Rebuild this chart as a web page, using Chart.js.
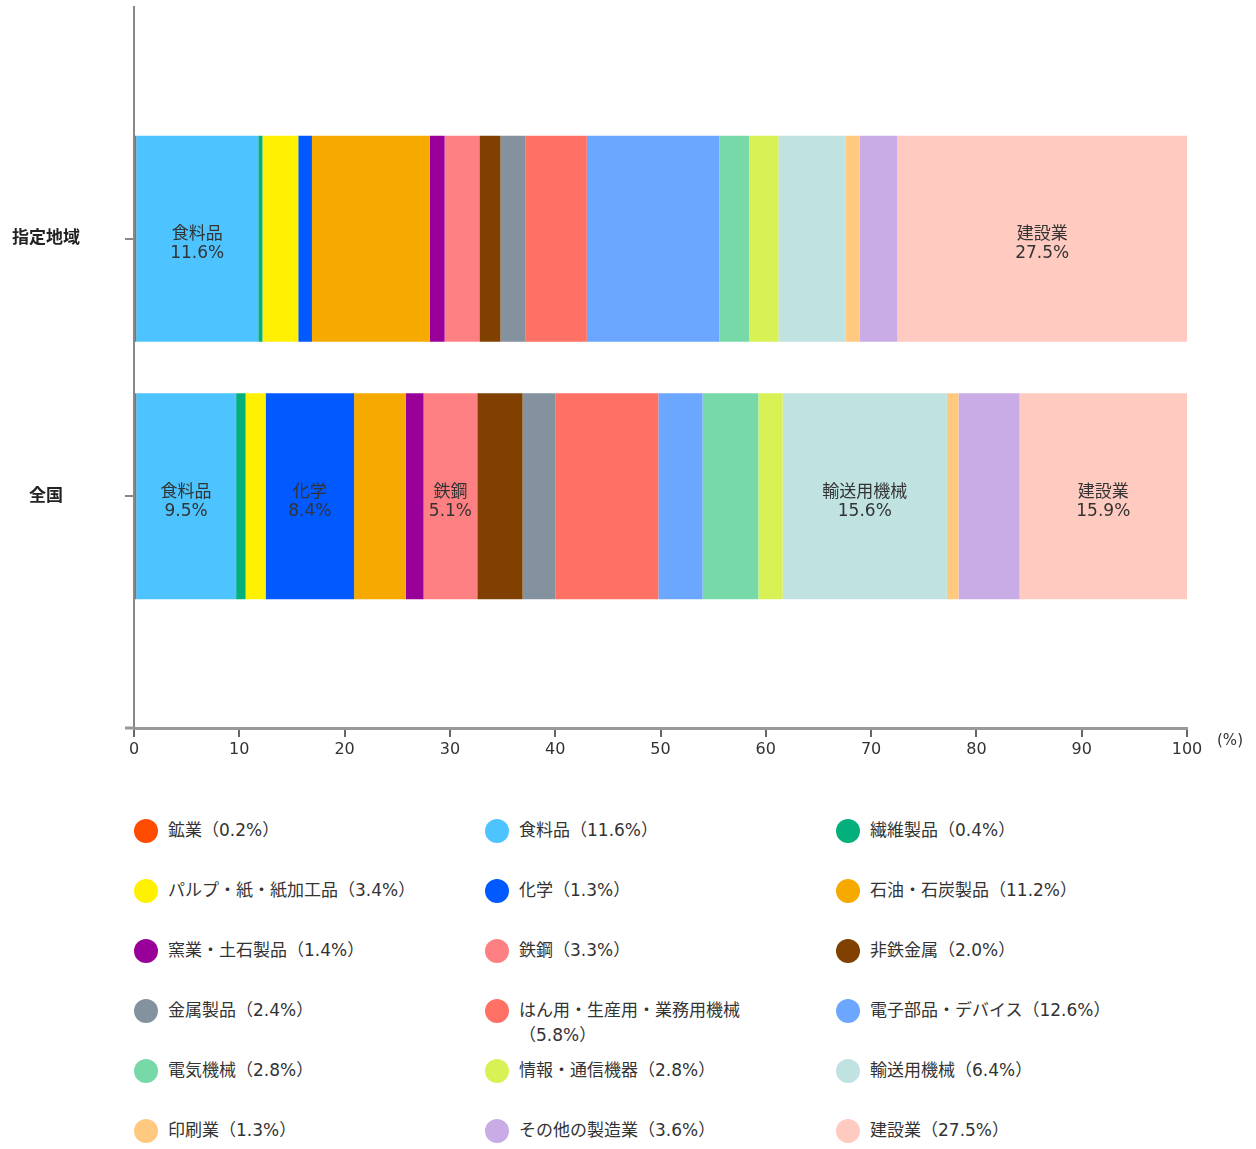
<!DOCTYPE html>
<html lang="ja">
<head>
<meta charset="utf-8">
<title>産業別構成比</title>
<script src="https://cdn.jsdelivr.net/npm/chart.js@4/dist/chart.umd.min.js"></script>
<style>
  body { margin: 0; background: #fff; }
  #wrap { position: relative; width: 1256px; height: 1149px; }
  #chartBox { position: absolute; left: 0; top: 0; width: 1256px; height: 790px; }
  #legend {
    position: absolute; left: 134px; top: 818px;
    display: grid; grid-template-columns: repeat(3, 351px); grid-auto-rows: 60px;
    font: 17px "DejaVu Sans", "Noto Sans CJK JP", sans-serif; color: #333;
  }
  .item { display: flex; align-items: flex-start; }
  .dot { width: 24px; height: 24px; border-radius: 50%; flex: none; margin-top: 0.5px; }
  .txt { margin-left: 10px; max-width: 270px; line-height: 25px; }
</style>
</head>
<body>
<div id="wrap">
  <div id="chartBox"><canvas id="share"></canvas></div>
  <div id="legend"></div>
</div>
<script>
// ============================= data

const areas = ['指定地域', '全国']

const industries = [
    '鉱業', '食料品', '繊維製品',
    'パルプ・紙・紙加工品', '化学', '石油・石炭製品',
    '窯業・土石製品', '鉄鋼', '非鉄金属',
    '金属製品', 'はん用・生産用・業務用機械', '電子部品・デバイス',
    '電気機械', '情報・通信機器', '輸送用機械',
    '印刷業', 'その他の製造業', '建設業'
]

const localShare    = [0.2, 11.6, 0.4, 3.4, 1.3, 11.2, 1.4, 3.3, 2.0, 2.4, 5.8, 12.6, 2.8, 2.8, 6.4, 1.3, 3.6, 27.5]
const nationalShare = [0.2, 9.5, 0.9, 1.9, 8.4, 4.9, 1.7, 5.1, 4.3, 3.1, 9.8, 4.2, 5.3, 2.3, 15.6, 1.1, 5.8, 15.9]

const colors = [
    '#ff4b00', '#4dc4ff', '#03af7a',
    '#fff100', '#005aff', '#f6aa00',
    '#990099', '#ff8082', '#804000',
    '#84919e', '#ff7165', '#6ba6ff',
    '#77d9a8', '#d8f255', '#c0e3e1',
    '#ffca80', '#c9ace6', '#ffcabf'
]

// segments that get a name/value caption, per bar
const tagged = [
    ['食料品', '建設業'],
    ['食料品', '化学', '鉄鋼', '輸送用機械', '建設業']
]

const xTicks = [0, 10, 20, 30, 40, 50, 60, 70, 80, 90, 100]

const latin = '"DejaVu Sans", "Noto Sans CJK JP", sans-serif'

// ============================= caption + unit plugin

const captions = {
    id: 'captions',
    afterDatasetsDraw(chart) {
        const ctx = chart.ctx
        ctx.save()
        ctx.font = `17px ${latin}`
        ctx.fillStyle = '#333'
        ctx.textAlign = 'center'
        ctx.textBaseline = 'middle'
        chart.data.datasets.forEach((ds, i) => {
            chart.getDatasetMeta(i).data.forEach((bar, row) => {
                if (!tagged[row].includes(ds.label)) return
                const { x, y } = bar.getCenterPoint()
                ctx.fillText(ds.label, x, y - 4)
                ctx.fillText(ds.data[row].x.toFixed(1) + '%', x, y + 15)
            })
        })
        ctx.restore()
    },
    afterDraw(chart) {
        const ctx = chart.ctx
        const area = chart.chartArea
        ctx.save()
        // x axis line runs a little past the y axis
        ctx.strokeStyle = '#999'
        ctx.lineWidth = 3
        ctx.beginPath()
        ctx.moveTo(area.left - 9, area.bottom)
        ctx.lineTo(area.left, area.bottom)
        ctx.stroke()
        ctx.font = `15px ${latin}`
        ctx.fillStyle = '#333'
        ctx.textAlign = 'center'
        ctx.textBaseline = 'middle'
        ctx.fillText('(%)', area.right + 43, area.bottom + 13)
        ctx.restore()
    }
}

// ============================= chart

const datasets = industries.map((name, i) => ({
    label: name,
    data: [ { x: localShare[i], y: 0 }, { x: nationalShare[i], y: 1 } ],
    backgroundColor: colors[i],
    borderWidth: 0,
    barPercentage: 1,
    categoryPercentage: 0.8
}))

const chart = new Chart(document.getElementById('share'), {
    type: 'bar',
    data: { datasets },
    plugins: [captions],
    options: {
        indexAxis: 'y',
        responsive: true,
        maintainAspectRatio: false,
        animation: false,
        layout: { padding: { top: 7, right: 69, left: 0, bottom: 0 } },
        plugins: {
            legend: { display: false },
            tooltip: { enabled: false }
        },
        scales: {
            x: {
                type: 'linear',
                stacked: true,
                min: 0, max: 100,
                afterBuildTicks: s => { s.ticks = xTicks.map(v => ({ value: v })) },
                afterFit: s => { s.height = 62 },
                grid: { display: true, drawOnChartArea: false, drawTicks: true, tickLength: 9, color: '#666', lineWidth: 2 },
                border: { display: true, color: '#999', width: 3 },
                ticks: { padding: 3, color: '#333', font: { family: latin, size: 16 } }
            },
            y: {
                type: 'linear',
                stacked: true,
                reverse: true,
                offset: false,
                min: -0.9, max: 1.9,
                afterBuildTicks: s => { s.ticks = areas.map((_, i) => ({ value: i })) },
                afterFit: s => {
                    s.width = 134
                    // the wide label padding is only meant horizontally
                    s.paddingTop = 0
                    s.paddingBottom = 0
                },
                grid: { display: true, offset: false, drawOnChartArea: false, drawTicks: true, tickLength: 9, color: '#888', lineWidth: 2 },
                border: { display: true, color: '#888', width: 2 },
                ticks: {
                    crossAlign: 'center',
                    padding: 45,
                    color: '#222',
                    font: { family: latin, size: 17, weight: 'bold' },
                    callback: v => areas[v] ?? ''
                }
            }
        }
    }
})

// ============================= legend

const legend = document.getElementById('legend')
chart.data.datasets.forEach((ds, i) => {
    const item = document.createElement('div')
    item.className = 'item'
    item.innerHTML = `<span class="dot" style="background:${ds.backgroundColor}"></span>` +
        `<span class="txt">${ds.label}（${localShare[i].toFixed(1)}%）</span>`
    legend.appendChild(item)
})
</script>
</body>
</html>
